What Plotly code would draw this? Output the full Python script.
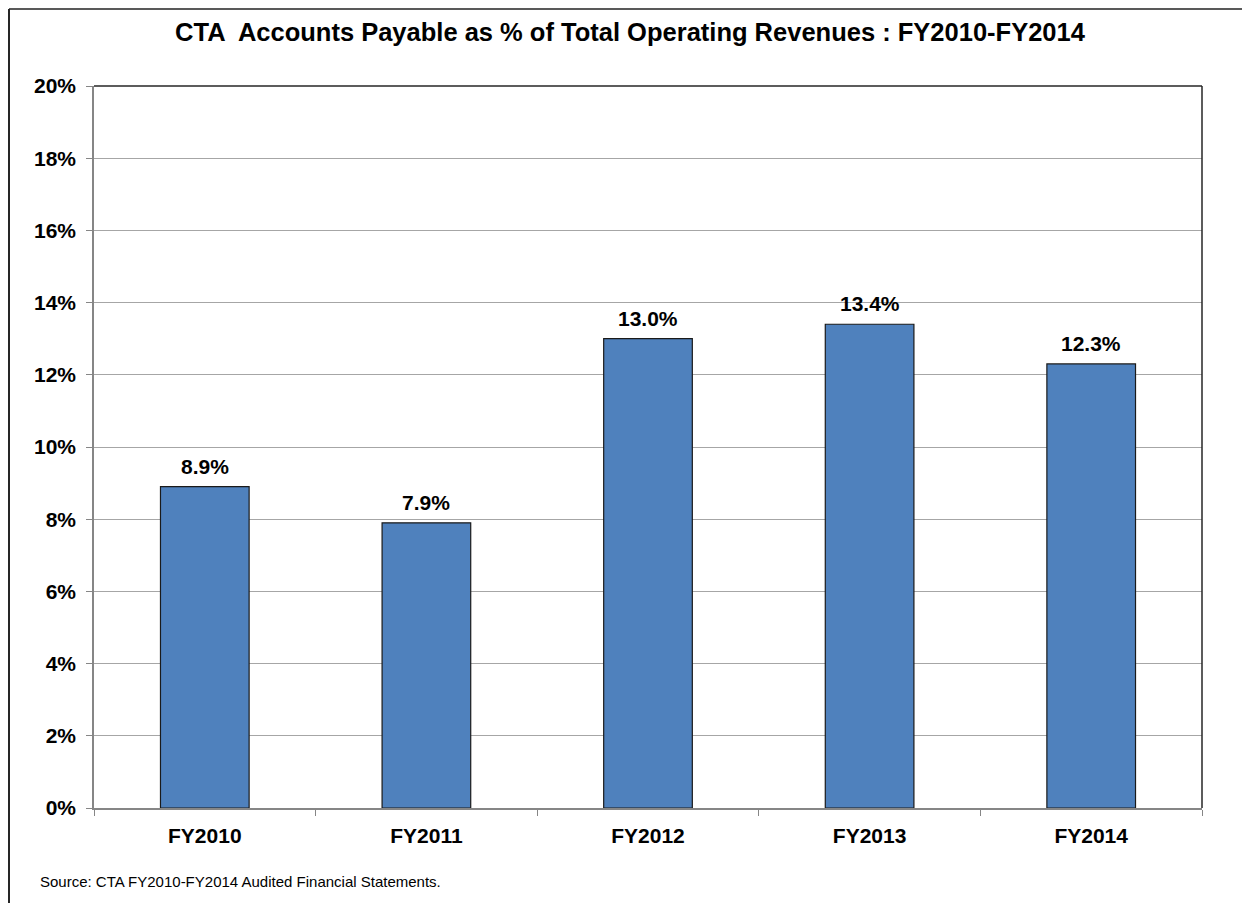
import plotly.graph_objects as go

years = ["FY2010", "FY2011", "FY2012", "FY2013", "FY2014"]
ap_pct = [8.9, 7.9, 13.0, 13.4, 12.3]
y_ticks = [0, 2, 4, 6, 8, 10, 12, 14, 16, 18, 20]

# the page adds an 8px body margin, so the figure is sized and placed to suit
OFF = 8
W, H = 1250 - OFF, 903 - OFF
L, R, T, B = 94 - OFF, 1250 - 1202, 86 - OFF, 903 - 808
pw, ph = W - L - R, H - T - B


def px_x(px):
    # px is a page pixel
    return (px - OFF - L) / pw


def px_y(py):
    return (H - B - (py - OFF)) / ph


FONT = "Liberation Sans, Arial, sans-serif"

fig = go.Figure(go.Bar(
    x=years, y=ap_pct, width=0.4,
    marker=dict(color="#4F81BD", line=dict(color="#1a1a1a", width=1.2)),
))

for yr, v in zip(years, ap_pct):
    fig.add_annotation(x=yr, y=v, text=f"<b>{v:.1f}%</b>", showarrow=False,
                       yanchor="bottom", yshift=7,
                       font=dict(family=FONT, size=21, color="black"))

fig.update_layout(
    width=W, height=H,
    margin=dict(l=L, r=R, t=T, b=B),
    paper_bgcolor="white", plot_bgcolor="white",
    showlegend=False,
    title=dict(text="<b>CTA  Accounts Payable as % of Total Operating Revenues : FY2010-FY2014</b>",
               x=(630 - OFF) / W, xanchor="center", y=1 - (32 - OFF) / H, yanchor="middle",
               font=dict(family=FONT, size=25.5, color="black")),
    font=dict(family=FONT, color="black"),
)

fig.update_yaxes(
    range=[0, 20], tickvals=y_ticks, ticktext=[f"<b>{v}%</b>" for v in y_ticks],
    tickfont=dict(family=FONT, size=21, color="black"),
    showgrid=True, gridcolor="#A6A6A6", gridwidth=1,
    showline=True, linecolor="#868686", linewidth=1.5,
    ticks="outside", ticklen=6, tickcolor="#868686", ticklabelstandoff=6,
    zeroline=False,
)
fig.update_xaxes(
    tickfont=dict(family=FONT, size=21, color="black"),
    ticktext=[f"<b>{y}</b>" for y in years], tickvals=years,
    showline=True, linecolor="#868686", linewidth=1.5,
    ticks="outside", ticklen=6, tickcolor="#868686", tickson="boundaries",
    ticklabelstandoff=8, showgrid=False,
)

# top and right plot border
fig.add_shape(type="line", xref="paper", yref="paper", x0=0, x1=1, y0=1, y1=1,
              line=dict(color="#262626", width=1.5))
fig.add_shape(type="line", xref="paper", yref="paper", x0=1, x1=1, y0=0, y1=1,
              line=dict(color="#262626", width=1.5))

# outer chart frame (top and left edge)
fig.add_shape(type="line", xref="paper", yref="paper",
              x0=px_x(OFF + 1), x1=px_x(1260), y0=px_y(OFF + 1), y1=px_y(OFF + 1),
              line=dict(color="#595959", width=2))
fig.add_shape(type="line", xref="paper", yref="paper",
              x0=px_x(OFF + 1), x1=px_x(OFF + 1), y0=px_y(OFF + 1), y1=px_y(910),
              line=dict(color="#262626", width=2))

fig.add_annotation(text="Source: CTA FY2010-FY2014 Audited Financial Statements.",
                   xref="paper", yref="paper", x=px_x(38), y=px_y(881),
                   xanchor="left", yanchor="middle", showarrow=False,
                   font=dict(family=FONT, size=15, color="black"))

fig.write_html("out.html")
